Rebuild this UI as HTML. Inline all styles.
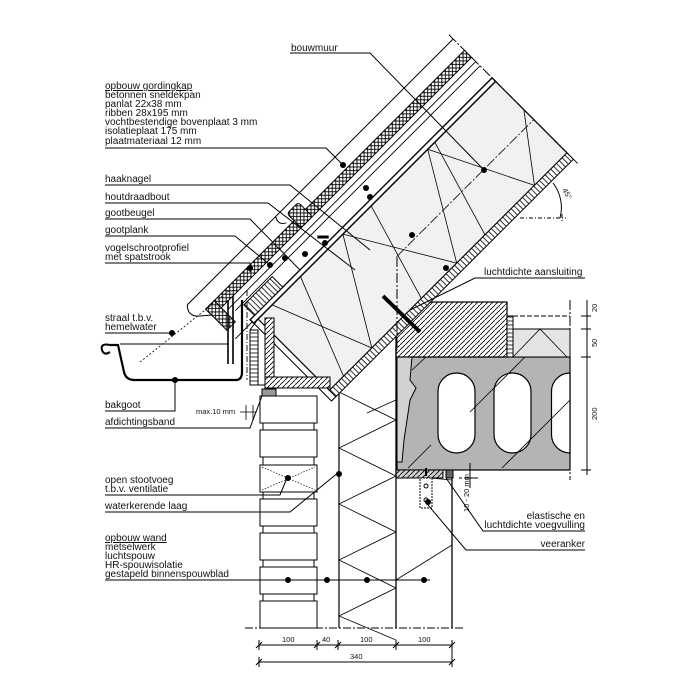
<!DOCTYPE html>
<html><head><meta charset="utf-8"><style>
html,body{margin:0;padding:0;background:#fff}
svg{display:block}
text{font-family:"Liberation Sans",sans-serif;font-size:10px;fill:#111}
.s{font-size:7.5px}
</style></head><body>
<svg width="700" height="700" viewBox="0 0 700 700" xmlns="http://www.w3.org/2000/svg">
<defs>
<pattern id="xh" width="5" height="5" patternUnits="userSpaceOnUse"><rect width="5" height="5" fill="#fff"/><path d="M0 0L5 5M5 0L0 5" stroke="#000" stroke-width="0.9"/></pattern>
<pattern id="dh" width="5" height="5" patternUnits="userSpaceOnUse"><rect width="5" height="5" fill="#fff"/><path d="M-1 6L6 -1" stroke="#000" stroke-width="0.8"/></pattern>
<pattern id="dh2" width="5" height="5" patternUnits="userSpaceOnUse"><rect width="5" height="5" fill="#cfcfcf"/><path d="M-1 6L6 -1" stroke="#000" stroke-width="0.8"/></pattern>
<pattern id="vh" width="4" height="4" patternUnits="userSpaceOnUse"><rect width="4" height="4" fill="#fff"/><path d="M1 0V4" stroke="#000" stroke-width="0.8"/></pattern>
<pattern id="hh" width="4" height="4" patternUnits="userSpaceOnUse"><rect width="4" height="4" fill="#fff"/><path d="M0 1H4" stroke="#000" stroke-width="0.8"/></pattern>
</defs>
<g stroke="#000" fill="none" stroke-width="1">

<!-- floor slab -->
<rect x="397" y="357" width="173" height="113" fill="#b4b4b4" stroke-width="1.2"/>
<path d="M397 357H412L410 380L416 388L410 400L404 440L402 462H397Z" fill="#d2d2d2"/>
<g fill="#fff" stroke-width="1.2">
<rect x="438" y="373" width="37" height="80" rx="18.5"/>
<rect x="494" y="373" width="37" height="80" rx="18.5"/>
<path d="M570 373A18.5 18.5 0 0 0 551.5 391.5V434.5A18.5 18.5 0 0 0 570 453Z"/>
</g>
<path d="M412 370L426 357M408 468L431 445M470 412L525 357M502 468L570 400" stroke-width="0.8"/>
<rect x="396" y="302" width="111" height="55" fill="url(#dh)" stroke-width="1.2"/>
<rect x="507" y="316" width="6" height="41" fill="url(#hh)"/>
<rect x="513" y="329" width="57" height="28" fill="#e4e4e4"/>
<path d="M513 357L540 329L567 357" stroke-width="0.8"/>
<path d="M513 316H570" stroke-dasharray="5 2"/>
<path d="M570 300V480" stroke-dasharray="10 2 2 2"/>
<rect x="396" y="470" width="47" height="8" fill="url(#dh2)"/>
<rect x="446" y="470" width="7" height="8" fill="#666"/>
<path d="M459 478H470" stroke-dasharray="3 2"/>

<!-- dimension right -->
<path d="M587 300V475M581 316H591M581 329H591M581 357H591M581 470H591"/>
<text class="s" transform="translate(597,312) rotate(-90)" stroke="none">20</text>
<text class="s" transform="translate(597,347) rotate(-90)" stroke="none">50</text>
<text class="s" transform="translate(597,420) rotate(-90)" stroke="none">200</text>
<path d="M470 463V488M464 478H478"/>
<text class="s" transform="translate(469,512) rotate(-90)" stroke="none">10 - 20 mm</text>

<!-- wall -->
<g fill="#fff">
<rect x="260" y="396" width="57" height="27"/><rect x="260" y="430" width="57" height="27"/>
<rect x="260" y="465" width="57" height="27"/><rect x="260" y="499" width="57" height="27"/>
<rect x="260" y="533" width="57" height="27"/><rect x="260" y="567" width="57" height="27"/>
<rect x="260" y="601" width="57" height="27"/>
</g>
<path d="M263 423V430M314 423V430M263 457V465M314 457V465M263 492V499M314 492V499M263 526V533M314 526V533M263 560V567M314 560V567M263 594V601M314 594V601"/>
<path d="M262 467L315 490M262 490L315 467" stroke-dasharray="1.5 1.5" stroke-width="0.7"/>
<rect x="262" y="389" width="14" height="7" fill="#999"/>
<path d="M339 390V628" stroke-width="1.2"/>
<path d="M339 380V628" stroke-dasharray="8 2 2 2"/>
<path d="M396 345V628M452 478V628" stroke-width="1.3"/>
<path d="M339 392L396 420L339 448L396 476L339 504L396 532L339 560L396 588L339 616L396 640" stroke-width="0.8"/>
<path d="M396 400L367 413M452 545L396 580M452 480L430 478" stroke-width="0.8"/>
<path d="M245 628H465" stroke-dasharray="8 2 2 2"/>
<rect x="420" y="478" width="12" height="30" fill="#fff" stroke-dasharray="2 1"/>
<circle cx="426" cy="486" r="2"/><circle cx="426" cy="500" r="2"/>
<path d="M426 468V476" stroke-width="2"/>

<!-- bottom dimensions -->
<path d="M259 645H452M259 662H452M259 640V650M317 640V650M338 640V650M396 640V650M452 640V667M259 657V667"/>
<path d="M256 648L262 642M314 648L320 642M335 648L341 642M393 648L399 642M449 648L455 642M256 665L262 659M449 665L455 659"/>
<g stroke="none" class="s">
<text x="282" y="642" class="s">100</text><text x="322" y="642" class="s">40</text>
<text x="360" y="642" class="s">100</text><text x="418" y="642" class="s">100</text>
<text x="350" y="659" class="s">340</text>
</g>

<!-- roof -->
<g transform="translate(258,319) rotate(-45)">
<rect x="0" y="0" width="336" height="101" fill="#f1f1f1" stroke-width="1.2"/>
<rect x="0" y="101" width="336" height="9" fill="url(#vh)"/>
<rect x="-6" y="-5" width="342" height="5" fill="#fff" stroke-width="1.4"/>
<path d="M-10 -22H336M-14 -28H336" stroke-width="0.9"/>
<rect x="-30" y="-44" width="366" height="10" fill="url(#xh)"/>
<path d="M-40 -60H336" stroke-width="1"/>
<path d="M336 -66V116" stroke-dasharray="10 2 2 2"/>
<path d="M20 0L60 101M60 101L120 0M120 0L180 101M180 101L240 0M240 0L290 101M290 101L336 40M60 0L20 101M160 0L130 101M250 0L220 101" stroke-width="0.8"/>
<path d="M-40 -60Q-48 -52 -40 -44L-28 -34" stroke-width="1"/>
<rect x="-30" y="-44" width="12" height="30" fill="url(#xh)"/>
<rect x="95" y="-54" width="16" height="20" fill="url(#xh)" rx="3"/>
<path d="M85 -60Q80 -52 88 -48" />
<rect x="0" y="-20" width="40" height="15" fill="url(#vh)"/>
<path d="M-30 -2H-6V110H0" stroke-width="1"/>
<path d="M142 54H336" stroke-width="0.8" stroke-dasharray="10 2 2 2"/>
<path d="M100 -16L108 -8" stroke-width="3"/>
</g>
<path d="M258 319L250 330V385H330" stroke-width="1"/>
<rect x="265" y="318" width="9" height="68" fill="url(#dh)"/>
<path d="M265 377H330V388H265Z" fill="url(#dh)"/>
<rect x="250" y="330" width="8" height="55" fill="url(#hh)"/>
<path d="M383 296L420 332" stroke-width="4"/>
<path d="M397 257V350" stroke-dasharray="10 2 2 2"/>
<!-- 45 arc -->
<path d="M553 183A40 40 0 0 1 560 218" /><path d="M520 218H566M562 214V222" stroke-dasharray="4 2 1 2"/>
<text class="s" transform="translate(562,190) rotate(60)" stroke="none">45°</text>

<!-- gutter -->
<path d="M110 345H118L124 372Q126 380 134 380H236Q242 380 242 372V300" stroke-width="2.2"/>
<path d="M110 345Q100 343 102 350Q104 356 110 352" stroke-width="2"/>
<path d="M120 344H228" stroke-width="1"/>
<path d="M228 300V364M233 296V364" stroke-width="1.6"/>
<path d="M247 290V380" stroke-width="0.9" stroke-dasharray="6 2 1 2"/>
<path d="M140 362L230 290" stroke-dasharray="2 2" stroke-width="0.8"/>
<path d="M240 412H256M246 405V420M253 405V420" stroke-width="0.8"/>
<text class="s" x="196" y="414" stroke="none">max.10 mm</text>

<!-- leaders left -->
<path d="M105 148H326L343 165"/>
<path d="M105 185H290L370 250"/>
<path d="M105 203H268L355 270"/>
<path d="M105 219H250L300 270"/>
<path d="M105 236H235L270 265"/>
<path d="M105 263H250V272"/>
<path d="M105 333H172"/>
<path d="M105 411H175V380"/>
<path d="M105 428H250L262 396"/>
<path d="M105 495H280L287 478"/>
<path d="M105 512H290L339 472"/>
<path d="M105 580H430"/>
<!-- leaders right -->
<path d="M290 53H370L484 170"/>
<path d="M483 278H585M483 278H475L410 310"/>
<path d="M585 531H483L446 478"/>
<path d="M585 550H466L428 505"/>
</g>
<!-- dots -->
<g fill="#000">
<circle cx="343" cy="165" r="3"/><circle cx="370" cy="197" r="3"/><circle cx="366" cy="188" r="3"/>
<circle cx="484" cy="170" r="3"/><circle cx="412" cy="235" r="3"/><circle cx="446" cy="268" r="3"/>
<circle cx="325" cy="243" r="3"/><circle cx="305" cy="254" r="3"/><circle cx="285" cy="258" r="3"/>
<circle cx="270" cy="265" r="3"/><circle cx="250" cy="268" r="3"/>
<circle cx="172" cy="333" r="3"/><circle cx="175" cy="380" r="3"/><circle cx="288" cy="478" r="3"/>
<circle cx="339" cy="474" r="3"/><circle cx="428" cy="502" r="3"/>
<circle cx="288" cy="580" r="3"/><circle cx="327" cy="580" r="3"/><circle cx="367" cy="580" r="3"/><circle cx="424" cy="580" r="3"/>
</g>
<!-- labels -->
<text x="291" y="51">bouwmuur</text>
<text x="105" y="89" text-decoration="underline">opbouw gordingkap</text>
<text x="105" y="98">betonnen sneldekpan</text>
<text x="105" y="107">panlat 22x38 mm</text>
<text x="105" y="116">ribben 28x195 mm</text>
<text x="105" y="125">vochtbestendige bovenplaat 3 mm</text>
<text x="105" y="134">isolatieplaat 175 mm</text>
<text x="105" y="144">plaatmateriaal 12 mm</text>
<text x="105" y="182">haaknagel</text>
<text x="105" y="200">houtdraadbout</text>
<text x="105" y="216">gootbeugel</text>
<text x="105" y="233">gootplank</text>
<text x="105" y="251">vogelschrootprofiel</text>
<text x="105" y="260">met spatstrook</text>
<text x="105" y="321">straal t.b.v.</text>
<text x="105" y="330">hemelwater</text>
<text x="105" y="408">bakgoot</text>
<text x="105" y="425">afdichtingsband</text>
<text x="105" y="483">open stootvoeg</text>
<text x="105" y="492">t.b.v. ventilatie</text>
<text x="105" y="509">waterkerende laag</text>
<text x="105" y="541" text-decoration="underline">opbouw wand</text>
<text x="105" y="550">metselwerk</text>
<text x="105" y="559">luchtspouw</text>
<text x="105" y="568">HR-spouwisolatie</text>
<text x="105" y="577">gestapeld binnenspouwblad</text>
<text x="484" y="275">luchtdichte aansluiting</text>
<text x="585" y="519" text-anchor="end">elastische en</text>
<text x="585" y="528" text-anchor="end">luchtdichte voegvulling</text>
<text x="585" y="547" text-anchor="end">veeranker</text>
</svg>
</body></html>
